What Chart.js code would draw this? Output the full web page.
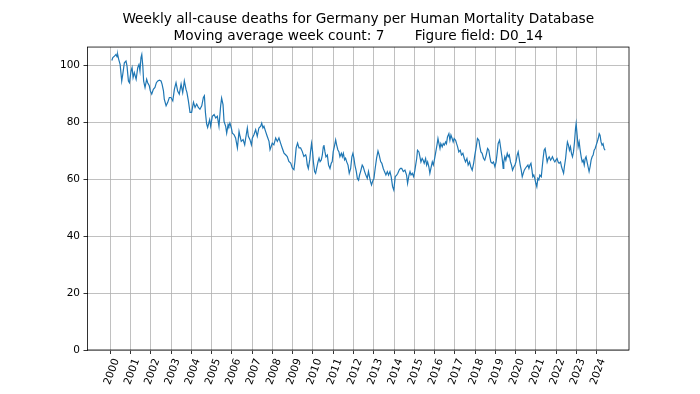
<!DOCTYPE html>
<html>
<head>
<meta charset="utf-8">
<script src="https://cdn.jsdelivr.net/npm/chart.js@4"></script>
<style>
  html, body { margin: 0; padding: 0; background: #fff; }
  #chart { display: block; }
</style>
</head>
<body>
<canvas id="chart" width="700" height="394"></canvas>
<script>
const titleLines = [
    'Weekly all-cause deaths for Germany per Human Mortality Database',
    'Moving average week count: 7       Figure field: D0_14'
];

const yearTicks = [2000, 2001, 2002, 2003, 2004, 2005, 2006, 2007, 2008, 2009, 2010, 2011,
    2012, 2013, 2014, 2015, 2016, 2017, 2018, 2019, 2020, 2021, 2022, 2023, 2024];
const valueTicks = [0, 20, 40, 60, 80, 100];

// week position as fractional year
const years = [
    2000.07, 2000.12, 2000.20, 2000.28, 2000.33, 2000.36, 2000.41, 2000.48, 2000.56, 2000.61,
    2000.69, 2000.77, 2000.82, 2000.89, 2000.94, 2001.02, 2001.07, 2001.12, 2001.18, 2001.27,
    2001.35, 2001.41, 2001.46, 2001.51, 2001.55, 2001.60, 2001.64, 2001.71, 2001.79, 2001.84,
    2001.92, 2001.97, 2002.04, 2002.12, 2002.20, 2002.27, 2002.34, 2002.42, 2002.50, 2002.55,
    2002.62, 2002.66, 2002.75, 2002.83, 2002.91, 2002.99, 2003.08, 2003.16, 2003.24, 2003.32,
    2003.40, 2003.49, 2003.57, 2003.65, 2003.73, 2003.78, 2003.85, 2003.93, 2004.01, 2004.10,
    2004.18, 2004.26, 2004.34, 2004.42, 2004.51, 2004.59, 2004.64, 2004.69, 2004.75, 2004.80,
    2004.90, 2004.95, 2005.03, 2005.12, 2005.20, 2005.28, 2005.36, 2005.44, 2005.49, 2005.56,
    2005.61, 2005.69, 2005.74, 2005.81, 2005.85, 2005.90, 2005.97, 2006.02, 2006.10, 2006.18,
    2006.27, 2006.35, 2006.40, 2006.46, 2006.55, 2006.63, 2006.68, 2006.76, 2006.81, 2006.89,
    2006.96, 2007.01, 2007.09, 2007.17, 2007.25, 2007.33, 2007.42, 2007.47, 2007.53, 2007.58,
    2007.66, 2007.74, 2007.83, 2007.88, 2007.94, 2007.99, 2008.07, 2008.16, 2008.24, 2008.32,
    2008.40, 2008.48, 2008.57, 2008.65, 2008.73, 2008.81, 2008.90, 2008.98, 2009.06, 2009.11,
    2009.17, 2009.24, 2009.31, 2009.39, 2009.47, 2009.55, 2009.64, 2009.67, 2009.72, 2009.77,
    2009.84, 2009.88, 2009.93, 2009.98, 2010.02, 2010.08, 2010.13, 2010.18, 2010.25, 2010.30,
    2010.35, 2010.41, 2010.46, 2010.51, 2010.54, 2010.59, 2010.64, 2010.71, 2010.77, 2010.84,
    2010.90, 2010.95, 2011.00, 2011.07, 2011.12, 2011.17, 2011.23, 2011.28, 2011.33, 2011.40,
    2011.45, 2011.50, 2011.56, 2011.61, 2011.66, 2011.73, 2011.79, 2011.86, 2011.92, 2011.97,
    2012.02, 2012.07, 2012.14, 2012.19, 2012.25, 2012.30, 2012.35, 2012.43, 2012.48, 2012.55,
    2012.61, 2012.68, 2012.74, 2012.79, 2012.84, 2012.89, 2012.94, 2013.01, 2013.07, 2013.14,
    2013.21, 2013.27, 2013.34, 2013.40, 2013.47, 2013.53, 2013.60, 2013.67, 2013.73, 2013.80,
    2013.86, 2013.93, 2013.99, 2014.06, 2014.13, 2014.19, 2014.26, 2014.32, 2014.38, 2014.46,
    2014.54, 2014.62, 2014.67, 2014.74, 2014.79, 2014.84, 2014.90, 2014.97, 2015.03, 2015.12,
    2015.16, 2015.23, 2015.28, 2015.33, 2015.39, 2015.44, 2015.49, 2015.56, 2015.61, 2015.66,
    2015.72, 2015.77, 2015.82, 2015.89, 2015.94, 2015.99, 2016.05, 2016.12, 2016.17, 2016.22,
    2016.27, 2016.31, 2016.38, 2016.43, 2016.48, 2016.55, 2016.59, 2016.64, 2016.71, 2016.76,
    2016.81, 2016.87, 2016.92, 2016.97, 2017.04, 2017.09, 2017.14, 2017.20, 2017.27, 2017.33,
    2017.40, 2017.47, 2017.53, 2017.60, 2017.66, 2017.73, 2017.79, 2017.86, 2017.93, 2017.99,
    2018.06, 2018.12, 2018.19, 2018.24, 2018.29, 2018.35, 2018.42, 2018.48, 2018.55, 2018.62,
    2018.68, 2018.73, 2018.78, 2018.85, 2018.91, 2018.98, 2019.04, 2019.09, 2019.14, 2019.21,
    2019.27, 2019.34, 2019.39, 2019.42, 2019.47, 2019.52, 2019.59, 2019.64, 2019.69, 2019.75,
    2019.80, 2019.85, 2019.92, 2019.97, 2020.02, 2020.08, 2020.13, 2020.18, 2020.23, 2020.28,
    2020.33, 2020.38, 2020.43, 2020.48, 2020.54, 2020.61, 2020.66, 2020.71, 2020.76, 2020.81,
    2020.85, 2020.90, 2020.95, 2021.00, 2021.05, 2021.10, 2021.15, 2021.20, 2021.27, 2021.31,
    2021.36, 2021.41, 2021.46, 2021.51, 2021.56, 2021.61, 2021.66, 2021.73, 2021.78, 2021.82,
    2021.89, 2021.94, 2021.99, 2022.05, 2022.10, 2022.15, 2022.22, 2022.27, 2022.32, 2022.37,
    2022.41, 2022.47, 2022.51, 2022.56, 2022.61, 2022.66, 2022.71, 2022.76, 2022.81, 2022.86,
    2022.91, 2022.96, 2022.99, 2023.04, 2023.09, 2023.14, 2023.19, 2023.24, 2023.29, 2023.34,
    2023.39, 2023.44, 2023.48, 2023.53, 2023.58, 2023.63, 2023.68, 2023.73, 2023.78, 2023.83,
    2023.88, 2023.93, 2023.98, 2024.03, 2024.08, 2024.13, 2024.17, 2024.22, 2024.27, 2024.32,
    2024.37, 2024.42
];

const deaths = [
    101.6, 102.6, 103.1, 103.7, 102.8, 103.7, 102.0, 100.2, 94.4, 96.7,
    100.8, 101.4, 99.7, 94.4, 93.8, 97.9, 99.1, 95.6, 97.3, 95.0,
    99.1, 100.2, 97.9, 102.6, 103.7, 99.7, 94.4, 92.1, 95.0, 93.8,
    92.7, 90.9, 89.8, 91.5, 92.1, 93.8, 94.4, 94.7, 94.4, 93.3,
    90.9, 88.0, 85.7, 86.9, 88.6, 88.6, 87.4, 91.5, 93.8, 90.9,
    89.8, 93.3, 90.3, 94.4, 91.5, 90.3, 87.4, 83.4, 83.4, 86.9,
    85.1, 86.3, 85.1, 84.5, 85.7, 88.6, 89.2, 83.4, 79.3, 78.1,
    80.8, 78.5, 82.0, 82.6, 81.4, 82.0, 78.5, 85.5, 88.4, 86.1,
    80.2, 78.5, 76.1, 79.1, 78.5, 79.6, 77.9, 76.1, 75.6, 74.4,
    70.9, 76.7, 75.0, 73.2, 73.8, 72.0, 74.4, 77.9, 75.0, 73.8,
    72.0, 74.4, 75.6, 77.3, 75.0, 77.9, 78.5, 79.6, 77.9, 78.5,
    76.7, 75.0, 73.2, 70.3, 71.5, 72.6, 72.0, 74.4, 73.2, 74.4,
    72.6, 70.9, 69.1, 68.5, 67.9, 66.2, 65.6, 63.9, 63.3, 66.2,
    70.9, 72.6, 70.9, 70.9, 69.7, 67.9, 68.5, 67.8, 64.9, 63.7,
    66.7, 69.6, 72.5, 69.6, 66.1, 62.6, 62.0, 63.7, 66.1, 67.3,
    66.1, 66.7, 68.4, 71.3, 71.9, 69.6, 67.8, 68.4, 64.9, 63.7,
    65.5, 66.1, 69.6, 71.9, 73.7, 71.9, 70.2, 69.6, 67.8, 69.0,
    67.8, 69.0, 66.7, 67.3, 66.1, 64.9, 62.0, 63.7, 67.8, 69.0,
    67.3, 64.9, 62.6, 60.2, 59.6, 61.4, 62.6, 64.9, 64.3, 62.6,
    61.4, 60.2, 62.6, 60.8, 59.1, 57.9, 59.1, 60.2, 63.7, 67.3,
    69.8, 68.4, 66.1, 65.5, 63.7, 62.6, 61.4, 62.6, 61.4, 62.6,
    60.8, 57.3, 56.1, 60.8, 61.4, 62.0, 63.2, 63.7, 63.7, 62.6,
    63.1, 61.4, 58.5, 61.4, 62.6, 61.4, 62.0, 60.8, 63.1, 67.2,
    70.1, 69.5, 67.8, 66.0, 67.2, 66.6, 65.5, 67.2, 64.9, 66.0,
    64.3, 62.0, 63.7, 66.0, 64.9, 66.6, 69.0, 71.9, 74.2, 72.4,
    70.7, 72.4, 71.3, 72.4, 71.9, 73.0, 72.4, 74.8, 75.9, 73.6,
    75.4, 74.2, 73.0, 74.2, 73.6, 72.4, 71.3, 69.5, 70.1, 68.4,
    69.0, 67.2, 66.0, 67.2, 64.9, 66.0, 64.3, 63.1, 65.5, 68.4,
    71.3, 74.2, 73.6, 71.3, 69.5, 69.0, 67.2, 66.6, 68.4, 70.7,
    70.1, 67.8, 66.0, 65.5, 66.0, 64.3, 66.0, 69.0, 72.4, 73.6,
    70.7, 67.2, 63.7, 66.0, 67.8, 66.6, 69.0, 67.8, 68.4, 66.0,
    64.9, 63.1, 64.3, 64.9, 66.0, 68.4, 69.5, 67.2, 64.9, 63.1,
    60.8, 62.0, 63.1, 63.7, 64.3, 64.9, 63.7, 64.9, 65.5, 63.1,
    60.8, 61.4, 60.2, 58.5, 57.3, 60.2, 59.7, 61.4, 60.8, 63.7,
    67.2, 70.1, 70.7, 68.4, 66.0, 67.2, 67.8, 66.6, 67.2, 67.8,
    66.6, 66.0, 66.6, 67.2, 66.0, 65.5, 66.0, 64.3, 63.1, 62.0,
    64.3, 67.2, 70.1, 73.0, 71.9, 70.1, 71.3, 69.0, 67.8, 69.5,
    73.0, 77.7, 79.4, 75.4, 71.3, 73.0, 70.1, 67.8, 66.0, 66.6,
    64.9, 67.2, 67.8, 66.0, 64.3, 62.6, 64.3, 66.6, 67.8, 68.4,
    70.1, 70.7, 71.9, 73.0, 74.2, 75.9, 75.4, 73.0, 71.9, 72.4,
    70.7, 70.1
];

const baseFont = { family: 'DejaVu Sans', size: 10.5 };

// matplotlib-style box around the plot area
const frame = {
    id: 'frame',
    afterDraw(chart) {
        const { ctx, chartArea: a } = chart;
        ctx.save();
        ctx.strokeStyle = '#000';
        ctx.lineWidth = 0.8;
        ctx.strokeRect(a.left, a.top, a.right - a.left, a.bottom - a.top);
        ctx.restore();
    }
};

const ctx = document.getElementById('chart').getContext('2d');

new Chart(ctx, {
    type: 'line',
    data: {
        datasets: [{
            data: years.map((x, i) => ({ x: x, y: deaths[i] })),
            borderColor: '#1f77b4',
            borderWidth: 1.2,
            pointRadius: 0,
            tension: 0,
            fill: false
        }]
    },
    options: {
        responsive: false,
        animation: false,
        devicePixelRatio: 1,
        layout: { padding: { left: 0, right: 71, top: 0, bottom: 0 } },
        plugins: {
            legend: { display: false },
            tooltip: { enabled: false },
            title: {
                display: true,
                text: titleLines,
                fullSize: false,
                color: '#000',
                font: { family: 'DejaVu Sans', size: 13.7, weight: 'normal', lineHeight: 1.25 },
                padding: { top: 10.5, bottom: 2.3 }
            }
        },
        scales: {
            x: {
                type: 'linear',
                min: 1998.87,
                max: 2025.6,
                afterBuildTicks: (scale) => { scale.ticks = yearTicks.map(v => ({ value: v })); },
                afterFit: (scale) => { scale.height = 44; },
                ticks: {
                    autoSkip: false,
                    minRotation: 70,
                    maxRotation: 70,
                    padding: 3,
                    labelOffset: 6,
                    color: '#000',
                    font: baseFont,
                    callback: (v) => String(v)
                },
                grid: { color: '#b0b0b0', lineWidth: 0.8, tickColor: '#000', tickLength: 4, tickWidth: 0.8 },
                border: { display: false }
            },
            y: {
                min: 0,
                max: 106.3,
                afterBuildTicks: (scale) => { scale.ticks = valueTicks.map(v => ({ value: v })); },
                afterFit: (scale) => { scale.width = 87.5; },
                ticks: {
                    padding: 3.5,
                    color: '#000',
                    font: baseFont,
                    callback: (v) => String(v)
                },
                grid: { color: '#b0b0b0', lineWidth: 0.8, tickColor: '#000', tickLength: 4, tickWidth: 0.8 },
                border: { display: false }
            }
        }
    },
    plugins: [frame]
});
</script>
</body>
</html>
